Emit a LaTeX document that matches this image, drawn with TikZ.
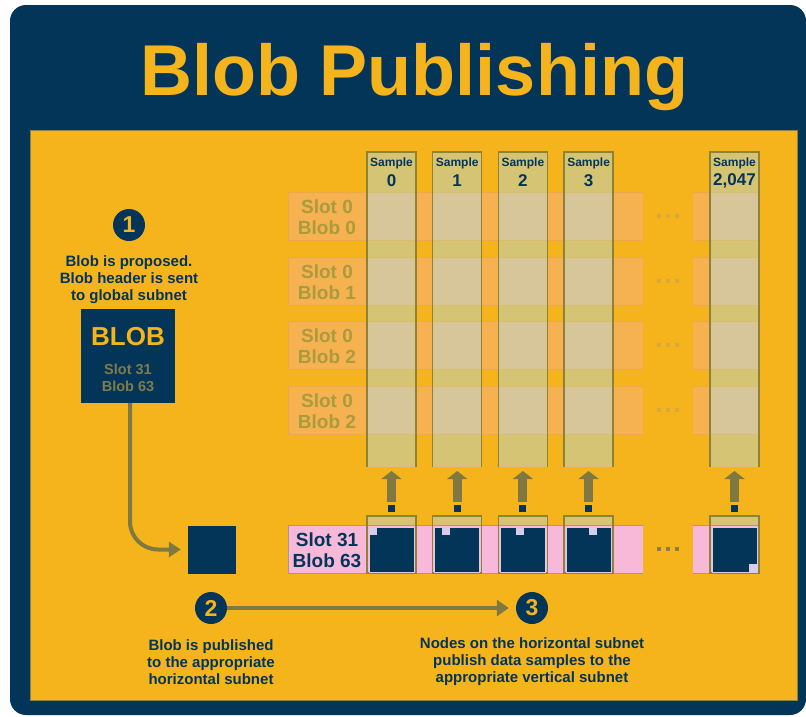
\documentclass[tikz,border=0pt]{standalone}
\usepackage{fontspec}
\setmainfont{Liberation Sans}
\usetikzlibrary{arrows.meta}
\definecolor{navy}{HTML}{033559}
\definecolor{yel}{HTML}{F5B41C}
\definecolor{panelline}{HTML}{8A8242}
\definecolor{olivearr}{HTML}{7F7840}
\definecolor{rowfill}{HTML}{F6B151}
\definecolor{rowline}{HTML}{E9A94C}
\definecolor{rowtext}{HTML}{AA9B3D}
\definecolor{colfill}{HTML}{D4C474}
\definecolor{overfill}{HTML}{D6C69A}
\definecolor{colline}{HTML}{8F8238}
\definecolor{pinkrow}{HTML}{F8B9D9}
\definecolor{pinkline}{HTML}{A593B5}
\definecolor{lav}{HTML}{D8CCEB}
\definecolor{blobsub}{HTML}{7F7C4C}
\definecolor{dotfaint}{HTML}{D9A73F}
\definecolor{dotdark}{HTML}{8C8040}
\begin{document}
\begin{tikzpicture}[x=1pt,y=-1pt,
  steptxt/.style={font=\bfseries\fontsize{15}{17}\selectfont, text=navy, align=center, inner sep=0pt},
  stepnum/.style={circle, fill=navy, minimum size=32pt, inner sep=0pt, text=yel, font=\bfseries\fontsize{23}{23}\selectfont},
  rowtxt/.style={font=\bfseries\fontsize{19}{20.5}\selectfont, text=rowtext, align=center, inner sep=0pt},
  pinktxt/.style={font=\bfseries\fontsize{19}{21}\selectfont, text=navy, align=center, inner sep=0pt},
  samp/.style={font=\bfseries\fontsize{12}{12}\selectfont, text=navy, inner sep=0pt},
  sampnum/.style={font=\bfseries\fontsize{17}{17}\selectfont, text=navy, inner sep=0pt},
  arr/.style={draw=olivearr, line width=4pt, -{Triangle[width=15pt,length=12pt]}},
  harr/.style={draw=olivearr, line width=3.5pt, -{Triangle[width=16pt,length=12pt]}},
  uparr/.style={draw=olivearr, line width=9pt, -{Triangle[width=20pt,length=8pt]}},
  navysq/.style={fill=navy, inner sep=0pt, minimum size=7pt},
  bignavy/.style={fill=navy, draw=lav, line width=0.9pt, inner sep=0pt, minimum size=45pt},
  dotf/.style={fill=dotfaint},
  dotd/.style={fill=dotdark}
]
% background and frame
\fill[white] (0,0) rectangle (806,716);
\useasboundingbox (0,0) rectangle (806,716);
\fill[navy, rounded corners=16pt] (10,5) rectangle (806,715);
\fill[yel] (30,130) rectangle (797,700);
\draw[panelline, line width=0.8pt] (30,130) rectangle (797,700);

% title
\node[anchor=base, inner sep=0pt, text=yel, font=\bfseries\fontsize{72}{72}\selectfont] (title) at (414,95) {Blob Publishing};

% rows (vertical subnets crossing)
\foreach \t/\b [count=\i] in {192/0,257/1,321/2,386/2} {
  \fill[rowfill] (288,\t) rectangle (643,\t+48);
  \draw[rowline, line width=1pt] (643,\t) -- (288,\t) -- (288,\t+48) -- (643,\t+48);
  \fill[rowfill] (693,\t) rectangle (758,\t+48);
  \draw[rowline, line width=1pt] (693,\t) -- (758,\t) (693,\t+48) -- (758,\t+48);
  \node[rowtxt] (rl\i) at (327,\t+25) {Slot 0\\Blob \b};
  \foreach \dx in {659,668,677} {
    \fill[dotf] (\dx-2,\t+22) rectangle (\dx+2,\t+26);
  }
}

% horizontal subnet row
\fill[pinkrow] (288,525) rectangle (643,573);
\draw[pinkline, line width=1pt] (643,525) -- (288,525) -- (288,573) -- (643,573);
\fill[pinkrow] (693,525) rectangle (758,573);
\draw[pinkline, line width=1pt] (693,525) -- (758,525) (693,573) -- (758,573);
\node[pinktxt] (hrow) at (327,550) {Slot 31\\Blob 63};
\foreach \dx in {659,668,677} {
  \fill[dotd] (\dx-2,547) rectangle (\dx+2,551);
}

% columns
\foreach \L/\n [count=\j] in {367/0,432.7/1,498.4/2,564.1/3,710/{2,047}} {
  \fill[colfill] (\L,152) rectangle (\L+49,467);
  \foreach \t in {192,257,321,386} {
    \fill[overfill] (\L,\t) rectangle (\L+49,\t+48);
    \draw[colfill!80!rowline, line width=0.6pt] (\L,\t) -- (\L+49,\t) (\L,\t+48) -- (\L+49,\t+48);
  }
  \draw[colline, line width=1.3pt] (\L,467) -- (\L,152) -- (\L+49,152) -- (\L+49,467);
  \node[samp] (sh\j) at (\L+24.5,163) {Sample};
  \node[sampnum] (sn\j) at (\L+24.5,181) {\n};
  % up arrow
  \node[navysq] (ns\j) at (\L+24.5,508.5) {};
  \coordinate (ct\j) at (\L+24.5,471);
  \draw[uparr, shorten <=3pt] (ns\j.north) -- (ct\j);
  % stub on horizontal subnet
  \fill[colfill] (\L,516) rectangle (\L+49,525);
  \draw[colline, line width=1.3pt] (\L,516) rectangle (\L+49,573);
  \node[bignavy] (bn\j) at (\L+24.5,549.5) {};
}
% sample markers
\fill[lav] (bn1.north west) ++(0.5,0.5) rectangle ++(8,8);
\fill[lav] (bn2.north west) ++(8,0.5) rectangle ++(8,8);
\fill[lav] (bn3.north west) ++(16,0.5) rectangle ++(8,8);
\fill[lav] (bn4.north west) ++(23,0.5) rectangle ++(8,8);
\fill[lav] (bn5.south east) ++(-0.5,-0.5) rectangle ++(-8,-8);

% step 1
\node[stepnum] (c1) at (129,225) {1};
\node[steptxt] (t1) at (129,280) {Blob is proposed.\\Blob header is sent\\to global subnet};
\node[fill=navy, minimum width=94pt, minimum height=94pt, inner sep=0pt] (blob) at (128,356) {};
\node[inner sep=0pt, text=yel, font=\bfseries\fontsize{26}{26}\selectfont] (blobt) at (128,337) {BLOB};
\node[inner sep=0pt, text=blobsub, align=center, font=\bfseries\fontsize{14.5}{17}\selectfont] (blobs) at (128,377.5) {Slot 31\\Blob 63};

% published blob
\node[fill=navy, minimum size=48pt, inner sep=0pt] (sq) at (212,549.5) {};
\draw[arr, rounded corners=28pt, shorten >=7pt] ([xshift=2pt]blob.south) |- (sq.west);

% step 2 and 3
\node[stepnum] (c2) at (211,608) {2};
\node[stepnum] (c3) at (532,608) {3};
\draw[harr, shorten >=7pt] (c2.east) -- (c3.west);
\node[steptxt] (t2) at (211,662) {Blob is published\\to the appropriate\\horizontal subnet};
\node[steptxt] (t3) at (532,662) {Nodes on the horizontal subnet\\publish data samples to the\\appropriate vertical subnet};
\end{tikzpicture}
\end{document}
